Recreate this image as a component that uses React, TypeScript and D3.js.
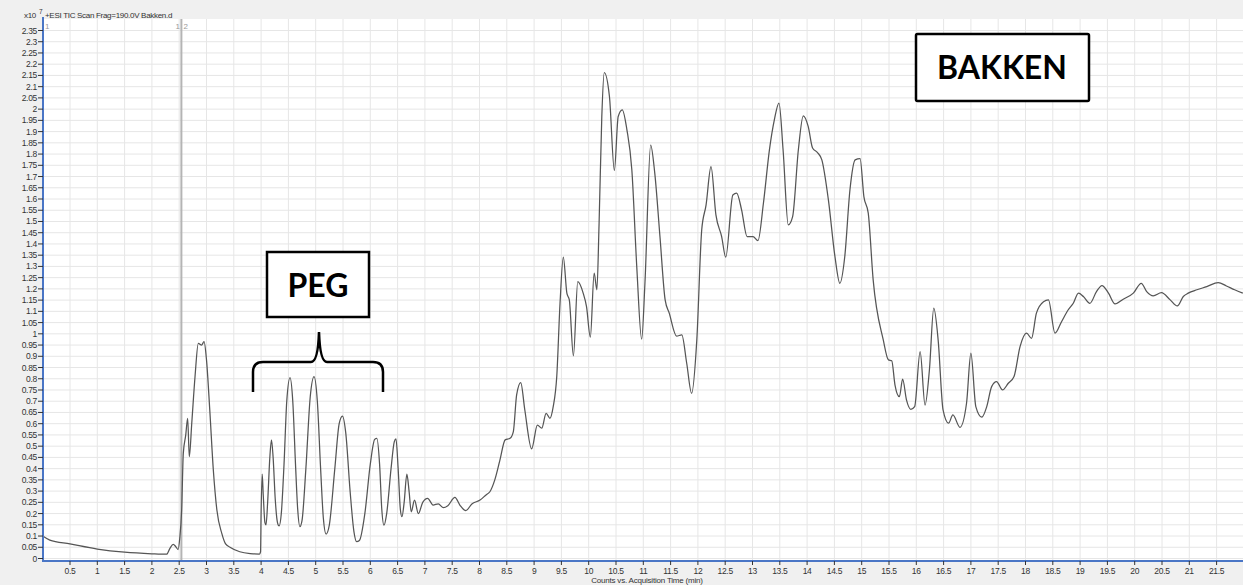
import React from "react";
import * as d3 from "d3";

// acquisition time (min)
const timeMin = [
  0, 0.13, 0.5, 1, 1.5, 2, 2.27, 2.33, 2.39, 2.44, 2.48, 2.51, 2.545, 2.575, 2.62, 2.655, 2.685, 2.73, 2.79, 2.85,
  2.91, 2.955, 3, 3.06, 3.125, 3.19, 3.28, 3.35, 3.43, 3.61, 3.8,
  3.97, 3.99, 4.0, 4.02, 4.04, 4.07, 4.09, 4.12, 4.16, 4.19, 4.22, 4.26, 4.3, 4.33, 4.37, 4.42, 4.47, 4.53, 4.58, 4.63,
  4.67, 4.71, 4.75, 4.82, 4.9, 4.97, 5.03, 5.09, 5.14, 5.19, 5.25, 5.35, 5.43, 5.49, 5.55, 5.63, 5.7, 5.75, 5.8, 5.9,
  6.0, 6.08, 6.12, 6.17, 6.21, 6.25, 6.3, 6.38, 6.44, 6.47, 6.51, 6.55, 6.58, 6.62, 6.67, 6.71, 6.75,
  6.81, 6.88, 6.96, 7.05, 7.15, 7.245, 7.34, 7.42, 7.55, 7.64, 7.75, 7.86, 8.01, 8.12, 8.19, 8.28,
  8.375, 8.47, 8.56, 8.62, 8.68, 8.755, 8.83, 8.955, 9.06, 9.14, 9.22, 9.29, 9.35, 9.415, 9.475, 9.535, 9.6, 9.645,
  9.72, 9.8, 9.9, 9.96, 10.03, 10.1, 10.15, 10.19, 10.24, 10.285, 10.38, 10.47, 10.54, 10.615, 10.7, 10.79, 10.88,
  10.97, 11.03, 11.135, 11.21, 11.305, 11.4, 11.475, 11.61, 11.705, 11.795, 11.885, 11.98, 12.07, 12.15, 12.24, 12.33,
  12.435, 12.51, 12.64, 12.71, 12.8, 12.9, 13.01, 13.1, 13.2, 13.31, 13.4, 13.485, 13.56, 13.655, 13.735, 13.84, 13.93,
  14.02, 14.1, 14.19, 14.27, 14.39, 14.51, 14.6, 14.69, 14.785, 14.88, 14.97, 15.04, 15.12, 15.21, 15.395, 15.49, 15.55,
  15.61, 15.69, 15.75, 15.82, 15.9, 15.97, 16.07, 16.16, 16.24, 16.32, 16.4, 16.49, 16.59, 16.67, 16.8, 16.92, 17,
  17.09, 17.2, 17.29, 17.38, 17.47, 17.58, 17.685, 17.79, 17.9, 18.02, 18.11, 18.2, 18.33, 18.42, 18.54, 18.66, 18.78,
  18.875, 18.97, 19.06, 19.18, 19.3, 19.4, 19.52, 19.64, 19.79, 19.975, 20.12, 20.22, 20.34, 20.49, 20.65, 20.78,
  20.89, 20.98, 21.14, 21.32, 21.53, 21.68, 21.83, 21.98,
];

// TIC counts, x10^7
const countsE7 = [
  0.1, 0.082, 0.065, 0.042, 0.028, 0.021, 0.019, 0.045, 0.063, 0.052, 0.04, 0.09, 0.216, 0.468, 0.55, 0.624, 0.453,
  0.602, 0.81, 0.958, 0.95, 0.965, 0.884, 0.661, 0.394, 0.216, 0.112, 0.065, 0.05, 0.03, 0.022,
  0.02, 0.03, 0.2, 0.376, 0.28, 0.16, 0.15, 0.25, 0.45, 0.528, 0.45, 0.26, 0.16, 0.145, 0.2, 0.42, 0.7, 0.805, 0.7, 0.42,
  0.22, 0.142, 0.17, 0.4, 0.72, 0.81, 0.7, 0.4, 0.18, 0.109, 0.15, 0.4, 0.6, 0.634, 0.56, 0.3, 0.12, 0.075, 0.08, 0.2,
  0.42, 0.53, 0.535, 0.42, 0.22, 0.148, 0.2, 0.4, 0.52, 0.532, 0.4, 0.22, 0.186, 0.25, 0.375, 0.3, 0.208,
  0.26, 0.2, 0.25, 0.268, 0.238, 0.243, 0.226, 0.235, 0.272, 0.238, 0.213, 0.243, 0.26, 0.283, 0.297, 0.35,
  0.439, 0.528, 0.535, 0.565, 0.728, 0.783, 0.661, 0.488, 0.594, 0.58, 0.646, 0.624, 0.676, 0.81, 1.136, 1.341, 1.181,
  1.151, 0.902, 1.232, 1.18, 1.121, 0.985, 1.27, 1.196, 1.49, 1.967, 2.163, 2.056, 1.727, 1.967, 1.997, 1.908, 1.73,
  1.3, 0.976, 1.225, 1.84, 1.715, 1.433, 1.151, 1.092, 0.99, 0.995, 0.869, 0.735, 0.973, 1.463, 1.574, 1.744, 1.529,
  1.433, 1.341, 1.618, 1.626, 1.552, 1.433, 1.433, 1.415, 1.581, 1.819, 1.952, 2.027, 1.819, 1.485, 1.522, 1.819, 1.97,
  1.923, 1.827, 1.807, 1.774, 1.596, 1.344, 1.225, 1.344, 1.641, 1.774, 1.78, 1.611, 1.537, 1.24, 0.973, 0.884, 0.88,
  0.772, 0.72, 0.798, 0.706, 0.664, 0.676, 0.921, 0.683, 0.839, 1.114, 0.973, 0.661, 0.602, 0.639, 0.584, 0.691, 0.914,
  0.676, 0.629, 0.676, 0.765, 0.787, 0.75, 0.78, 0.81, 0.943, 1.003, 0.98, 1.092, 1.143, 1.151, 1.003, 1.054, 1.106,
  1.136, 1.181, 1.166, 1.136, 1.188, 1.215, 1.181, 1.133, 1.154, 1.181, 1.225, 1.188, 1.169, 1.183, 1.151, 1.124,
  1.166, 1.181, 1.196, 1.21, 1.228, 1.213, 1.196, 1.181,
];

const xTickValues = d3.range(1, 44).map((i) => i * 0.5);
const yTickValues = d3.range(0, 48).map((i) => i * 0.05);
const markerTime = 2.54;

const W = 1243;
const H = 585;
const plotLeft = 43;
const plotTop = 19;
const plotBottom = 561;

export default function App() {
  const x = d3.scaleLinear().domain([0, 22]).range([42.7, 1243.9]);
  const y = d3.scaleLinear().domain([0, 2.35]).range([558.5, 30.5]);

  const pts: [number, number][] = timeMin.map((t, i) => [t, countsE7[i]]);
  const path = d3
    .line<[number, number]>()
    .x((d) => x(d[0]))
    .y((d) => y(d[1]))
    .curve(d3.curveMonotoneX)(pts);

  const fmt = (v: number) => String(+v.toFixed(2));

  // brace over PEG peaks
  const bL = 253, bR = 383, bMid = 319, bY = 362, bTop = 332, bBot = 392;
  const brace = `M${bL},${bBot} L${bL},${bY + 10} Q${bL},${bY} ${bL + 10},${bY} L${bMid - 8},${bY} Q${bMid - 1},${bY} ${bMid},${bTop} Q${bMid + 1},${bY} ${bMid + 8},${bY} L${bR - 10},${bY} Q${bR},${bY} ${bR},${bY + 10} L${bR},${bBot}`;

  return (
    <svg
      width={W}
      height={H}
      style={{ position: "absolute", left: 0, top: 0, display: "block" }}
      fontFamily="'Liberation Sans', Arial, sans-serif"
    >
      <rect x={0} y={0} width={W} height={H} fill="#f0f0f0" />
      <rect x={plotLeft} y={plotTop} width={W - plotLeft} height={plotBottom - plotTop} fill="#ffffff" />

      {/* grid */}
      <g stroke="#e6e6e6" strokeWidth={1}>
        {yTickValues.map((v) => (
          <line key={"gy" + v} x1={plotLeft} x2={W} y1={y(v)} y2={y(v)} />
        ))}
        {xTickValues.map((v) => (
          <line key={"gx" + v} x1={x(v)} x2={x(v)} y1={plotTop} y2={plotBottom} />
        ))}
      </g>

      {/* marker line */}
      <line x1={x(markerTime)} x2={x(markerTime)} y1={plotTop} y2={plotBottom} stroke="#b4b4b4" strokeWidth={2} />
      <text x={x(markerTime) - 6} y={29} fontSize={8} fill="#999">1</text>
      <text x={x(markerTime) + 2} y={29} fontSize={8} fill="#999">2</text>
      <text x={plotLeft + 2} y={29} fontSize={8} fill="#999">1</text>

      {/* trace */}
      <path d={path || ""} fill="none" stroke="#555" strokeWidth={1.25} strokeLinejoin="round" />

      {/* axes */}
      <line x1={plotLeft} x2={plotLeft} y1={17} y2={plotBottom + 1} stroke="#4a76c6" strokeWidth={2} />
      <line x1={plotLeft - 1} x2={W} y1={plotBottom} y2={plotBottom} stroke="#4a76c6" strokeWidth={2} />

      <g fontSize={8.5} fill="#333" letterSpacing={-0.3}>
        {yTickValues.map((v) => (
          <g key={"yt" + v}>
            <line x1={plotLeft - 5} x2={plotLeft} y1={y(v)} y2={y(v)} stroke="#333" />
            <text x={plotLeft - 6} y={y(v) + 3} textAnchor="end">
              {fmt(v)}
            </text>
          </g>
        ))}
        {xTickValues.map((v) => (
          <g key={"xt" + v}>
            <line x1={x(v)} x2={x(v)} y1={plotBottom} y2={plotBottom + 4} stroke="#333" />
            <text x={x(v)} y={plotBottom + 13} textAnchor="middle">
              {fmt(v)}
            </text>
          </g>
        ))}
      </g>
      <text x={647} y={583} fontSize={8} fill="#333" textAnchor="middle" letterSpacing={-0.2}>
        Counts vs. Acquisition Time (min)
      </text>

      {/* header */}
      <text x={24} y={18} fontSize={8} fill="#333" letterSpacing={-0.3}>x10</text>
      <text x={39} y={14} fontSize={6.5} fill="#333">7</text>
      <text x={45} y={18} fontSize={8} fill="#333" letterSpacing={-0.3}>
        +ESI TIC Scan Frag=190.0V Bakken.d
      </text>

      {/* annotations */}
      <rect x={267} y={252} width={102} height={65} fill="#fff" stroke="#000" strokeWidth={2.5} />
      <text x={318} y={297} fontSize={32} fontWeight="bold" fontFamily="Lato, 'Open Sans', sans-serif" textAnchor="middle">
        PEG
      </text>
      <path d={brace} fill="none" stroke="#000" strokeWidth={2.5} />

      <rect x={916} y={34} width={173} height={67} rx={1.5} fill="#fff" stroke="#000" strokeWidth={2.5} />
      <text x={1002} y={79} fontSize={32} fontWeight="bold" fontFamily="Lato, 'Open Sans', sans-serif" textAnchor="middle">
        BAKKEN
      </text>
    </svg>
  );
}
